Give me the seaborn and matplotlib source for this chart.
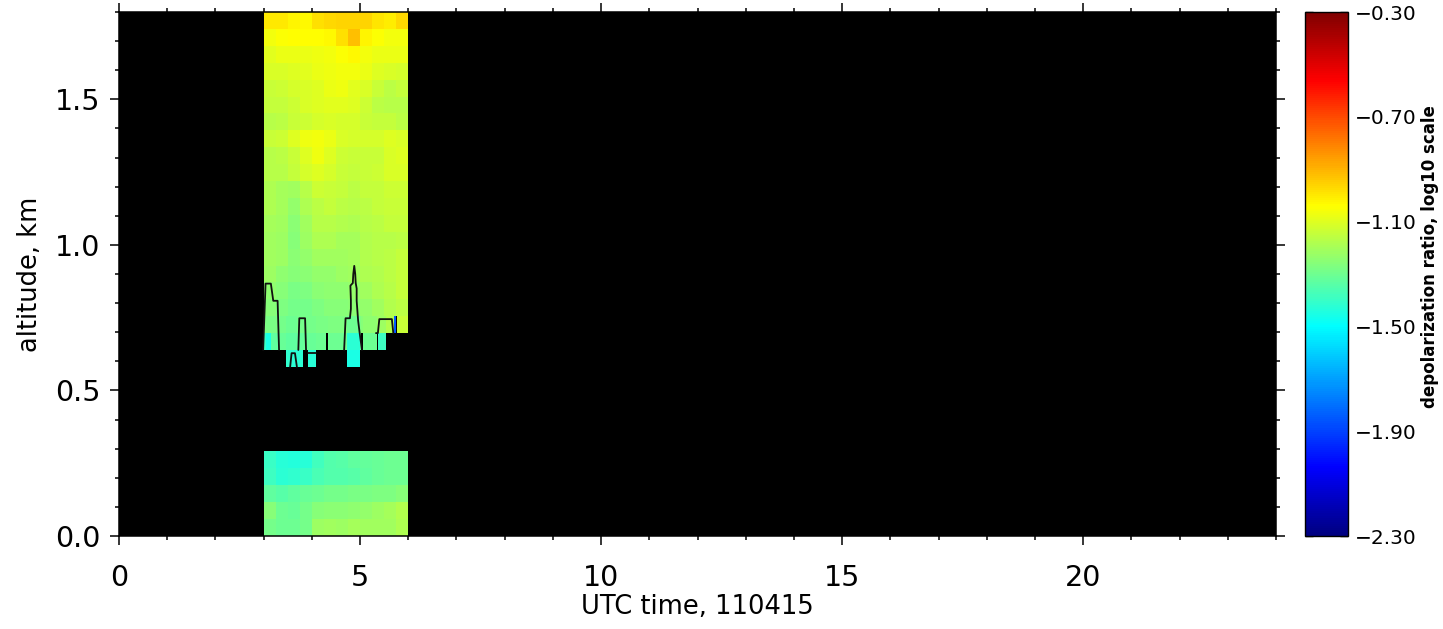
import numpy as np
import pandas as pd
import matplotlib
matplotlib.use("Agg")
import matplotlib.pyplot as plt
import seaborn as sns
from matplotlib.colors import LinearSegmentedColormap, Normalize
from matplotlib.cm import ScalarMappable
from matplotlib.ticker import MultipleLocator, FixedLocator, FuncFormatter

nan = np.nan

# ---------------- data ----------------
gate_km = 1.8 / 31          # altitude bin size
x_title = "UTC time, 110415"
y_title = "altitude, km"
cb_title = "depolarization ratio, log10 scale"
cb_major = [-2.3, -1.9, -1.5, -1.1, -0.7, -0.3]
cb_minor = [-2.1, -1.7, -1.3, -0.9, -0.5]

# upper field: altitude bins 13..30, 15-min time columns
upper_row_start = 13
coarse_time_edges = [3.00, 3.25, 3.50, 3.75, 4.00, 4.25, 4.50, 4.75, 5.00, 5.25, 5.50, 5.75, 6.00]
upper_rows = [  # top bin first
    [-1.00, -1.00, -1.02, -1.03, -0.98, -0.97, -0.96, -0.96, -0.96, -0.99, -1.01, -0.97],
    [-1.06, -1.05, -1.04, -1.04, -1.04, -1.03, -0.98, -0.92, -1.02, -1.05, -1.06, -1.06],
    [-1.09, -1.08, -1.08, -1.08, -1.07, -1.06, -1.05, -1.03, -1.06, -1.08, -1.08, -1.08],
    [-1.11, -1.11, -1.10, -1.09, -1.08, -1.07, -1.06, -1.06, -1.08, -1.10, -1.11, -1.12],
    [-1.14, -1.13, -1.12, -1.11, -1.10, -1.08, -1.07, -1.09, -1.11, -1.14, -1.16, -1.15],
    [-1.15, -1.15, -1.13, -1.11, -1.10, -1.09, -1.09, -1.10, -1.13, -1.16, -1.17, -1.17],
    [-1.17, -1.16, -1.14, -1.13, -1.12, -1.11, -1.12, -1.12, -1.14, -1.15, -1.15, -1.16],
    [-1.14, -1.13, -1.10, -1.07, -1.06, -1.08, -1.11, -1.12, -1.12, -1.12, -1.10, -1.11],
    [-1.17, -1.16, -1.14, -1.10, -1.07, -1.10, -1.13, -1.14, -1.14, -1.14, -1.11, -1.10],
    [-1.17, -1.17, -1.15, -1.12, -1.10, -1.12, -1.14, -1.15, -1.14, -1.13, -1.11, -1.11],
    [-1.19, -1.20, -1.21, -1.17, -1.13, -1.14, -1.15, -1.16, -1.15, -1.15, -1.13, -1.13],
    [-1.19, -1.20, -1.23, -1.19, -1.16, -1.15, -1.16, -1.17, -1.16, -1.15, -1.14, -1.14],
    [-1.20, -1.21, -1.25, -1.21, -1.17, -1.17, -1.18, -1.19, -1.17, -1.16, -1.15, -1.15],
    [-1.21, -1.22, -1.26, -1.22, -1.19, -1.19, -1.20, -1.20, -1.18, -1.17, -1.17, -1.16],
    [-1.21, -1.22, -1.25, -1.23, -1.21, -1.21, -1.21, -1.20, -1.18, -1.17, -1.16, -1.15],
    [-1.22, -1.24, -1.26, -1.25, -1.23, -1.23, -1.22, -1.21, -1.19, -1.18, -1.16, -1.15],
    [-1.24, -1.26, -1.28, -1.27, -1.25, -1.24, -1.24, -1.23, -1.21, -1.19, -1.17, -1.15],
    [-1.26, -1.27, -1.29, -1.29, -1.27, -1.26, -1.26, -1.25, -1.23, -1.21, -1.18, -1.16],
]

# lowest cloud-base bins 10..12 at finer, irregular time columns
low_row_start = 10
low_time_edges = [3.00, 3.05, 3.15, 3.32, 3.465, 3.55, 3.69, 3.825, 3.915, 4.09, 4.29,
                  4.33, 4.72, 5.00, 5.02, 5.06, 5.35, 5.37, 5.54, 5.71, 5.74, 5.76, 6.00]
low_rows = [  # top bin first
    [-1.27, -1.28, -1.28, -1.29, -1.30, -1.30, -1.29, -1.29, -1.29, -1.28, -1.28,
     -1.27, -1.30, -1.27, -1.26, -1.24, -1.22, -1.22, -1.18, -1.85, nan, -1.14],
    [-1.40, -1.45, -1.33, -1.31, -1.33, -1.33, -1.32, -1.31, -1.31, -1.30, nan,
     -1.30, -1.42, -1.32, nan, -1.30, nan, -1.39, nan, nan, nan, nan],
    [nan, nan, nan, nan, -1.41, -1.42, -1.42, nan, -1.43, nan, nan,
     nan, -1.45, nan, nan, nan, nan, nan, nan, nan, nan, nan],
]

# near-ground block: bins 0..4
bottom_row_start = 0
bottom_rows = [  # top bin first
    [-1.40, -1.43, -1.44, -1.43, -1.38, -1.35, -1.34, -1.33, -1.32, -1.31, -1.30, -1.30],
    [-1.39, -1.42, -1.41, -1.40, -1.37, -1.35, -1.35, -1.34, -1.33, -1.31, -1.30, -1.30],
    [-1.33, -1.34, -1.33, -1.31, -1.30, -1.29, -1.29, -1.28, -1.28, -1.27, -1.27, -1.26],
    [-1.26, -1.30, -1.31, -1.29, -1.26, -1.25, -1.25, -1.24, -1.23, -1.22, -1.20, -1.18],
    [-1.29, -1.30, -1.30, -1.29, -1.22, -1.21, -1.22, -1.20, -1.21, -1.21, -1.21, -1.19],
]

# cloud edge outline (segment id, time h, altitude km)
cloud_edge_seg = [0]*6 + [1]*4 + [2]*4 + [3]*2 + [4]*16 + [5]*5
cloud_edge_time = [2.99, 3.04, 3.15, 3.20, 3.29, 3.32,
                   3.55, 3.58, 3.65, 3.69,
                   3.72, 3.74, 3.86, 3.88,
                   3.93, 4.09,
                   4.67, 4.70, 4.79, 4.81, 4.81, 4.80, 4.85, 4.86, 4.88, 4.90, 4.91, 4.93, 4.93, 4.96, 4.99, 5.04,
                   5.33, 5.37, 5.40, 5.66, 5.69]
cloud_edge_alt = [0.639, 0.867, 0.867, 0.808, 0.808, 0.639,
                  0.581, 0.628, 0.628, 0.581,
                  0.639, 0.748, 0.748, 0.639,
                  0.628, 0.628,
                  0.639, 0.748, 0.748, 0.78, 0.81, 0.86, 0.869, 0.90, 0.928, 0.90, 0.869, 0.85, 0.808, 0.74, 0.70, 0.639,
                  0.697, 0.697, 0.745, 0.745, 0.697]

# ---------------- style ----------------
sns.set_theme(style="ticks")
plt.rcParams.update({
    "font.family": ["DejaVu Sans"],
    "axes.edgecolor": "black",
    "axes.linewidth": 1.1,
    "xtick.color": "black",
    "ytick.color": "black",
    "text.color": "black",
    "axes.labelcolor": "black",
})

cmap = LinearSegmentedColormap.from_list("idl_rainbow", [
    (0.00, (0.0, 0.0, 0.5)),
    (0.13, (0.0, 0.0, 1.0)),
    (0.40, (0.0, 1.0, 1.0)),
    (0.63, (1.0, 1.0, 0.0)),
    (0.87, (1.0, 0.0, 0.0)),
    (1.00, (0.5, 0.0, 0.0)),
])
norm = Normalize(vmin=cb_major[0], vmax=cb_major[-1])

W, H = 1443, 629
fig = plt.figure(figsize=(W / 100, H / 100), dpi=100)
ax = fig.add_axes([119 / W, 1 - 536 / H, (1276 - 119) / W, 524 / H])
cax = fig.add_axes([1305 / W, 1 - 536 / H, 43 / W, 524 / H])
ax.set_facecolor("black")


def draw_block(time_edges, row_start, rows_topfirst):
    vals = np.array(rows_topfirst, dtype=float)[::-1]
    alt_edges = (row_start + np.arange(vals.shape[0] + 1)) * gate_km
    ax.pcolormesh(np.array(time_edges), alt_edges, np.ma.masked_invalid(vals),
                  cmap=cmap, norm=norm, shading="flat", edgecolors="none",
                  antialiased=False, zorder=1)


draw_block(coarse_time_edges, upper_row_start, upper_rows)
draw_block(low_time_edges, low_row_start, low_rows)
draw_block(coarse_time_edges, bottom_row_start, bottom_rows)

edge_df = pd.DataFrame({"seg": cloud_edge_seg, "time": cloud_edge_time, "alt": cloud_edge_alt})
sns.lineplot(data=edge_df, x="time", y="alt", units="seg", estimator=None, sort=False,
             color="#111111", lw=1.3, legend=False, ax=ax, zorder=3)

ax.set_xlim(0, 24)
ax.set_ylim(0, 1.8)
ax.xaxis.set_major_locator(MultipleLocator(5))
ax.xaxis.set_minor_locator(MultipleLocator(1))
ax.yaxis.set_major_locator(MultipleLocator(0.5))
ax.yaxis.set_minor_locator(MultipleLocator(0.1))
ax.yaxis.set_major_formatter(FuncFormatter(lambda v, _: f"{v:.1f}"))
ax.tick_params(which="both", direction="out", top=True, right=True, width=1.1)
ax.tick_params(which="major", length=6.5, labelsize=20.5)
ax.tick_params(which="minor", length=3.2)
ax.tick_params(axis="x", which="major", pad=14)
ax.tick_params(axis="y", which="major", pad=7)
for s in ax.spines.values():
    s.set_visible(True)
    s.set_color("black")

ax.set_xlabel(x_title, fontsize=18.5)
ax.set_ylabel(y_title, fontsize=18.5)
ax.xaxis.label.set_va("center")
ax.xaxis.set_label_coords(0.5, -(607 - 536) / 524)
ax.yaxis.label.set_va("center")
ax.yaxis.label.set_ha("center")
ax.yaxis.set_label_coords(-(119 - 30) / 1157, 0.5)

sm = ScalarMappable(norm=norm, cmap=cmap)
cb = fig.colorbar(sm, cax=cax)
cb.set_ticks(cb_major)
cb.ax.yaxis.set_minor_locator(FixedLocator(cb_minor))
cb.ax.yaxis.set_major_formatter(FuncFormatter(lambda v, _: f"{v:.2f}".replace("-", "\u2212")))
cb.outline.set_linewidth(1.0)
cb.outline.set_edgecolor("black")
cax.tick_params(which="both", direction="in", left=True, right=True,
                labelleft=False, labelright=True, width=1.0, colors="black")
cax.tick_params(which="major", length=6, labelsize=14.5, pad=5)
cax.tick_params(which="minor", length=3)

fig.text(1430 / W, 1 - 257 / H, cb_title, rotation=90, ha="center", va="center",
         fontsize=12, fontweight="bold")

fig.savefig("out.png", dpi=100, facecolor="white")
